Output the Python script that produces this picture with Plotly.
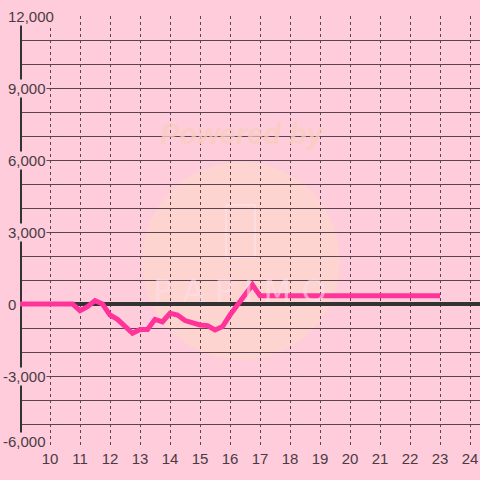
import plotly.graph_objects as go

x_vals = [9, 10.75, 11, 11.25, 11.5, 11.75, 12, 12.25, 12.75, 13, 13.25, 13.5, 13.75,
          14, 14.25, 14.5, 15, 15.25, 15.5, 15.75, 16, 16.75, 17, 23]
y_vals = [0, 0, -280, -110, 140, 0, -460, -640, -1220, -1060, -1060, -640, -740,
          -390, -460, -690, -875, -900, -1080, -940, -460, 800, 340, 340]
x_ticks = list(range(10, 25))
y_ticks = [12000, 9000, 6000, 3000, 0, -3000, -6000]
y_tick_labels = ["12,000", "9,000", "6,000", "3,000", "0", "-3,000", "-6,000"]

BG = "#ffccdc"
GRID = "#5a4450"
TXT = "#4a3b42"
FONT = "Liberation Sans, Arial, sans-serif"

fig = go.Figure()
fig.add_trace(go.Scatter(x=x_vals, y=y_vals, mode="lines",
                         line=dict(color="#ff3399", width=5), hoverinfo="skip",
                         cliponaxis=False))

W, H = 480, 480
L, R, T, B = 20, 0, 16, 32
pw, ph = W - L - R, H - T - B

def px_to_paper_x(px):
    return (px - L) / pw

def px_to_paper_y(py):
    return (H - B - py) / ph

shapes = []
# watermark circle
cx, cy, r = 241, 261, 99
shapes.append(dict(type="circle", xref="paper", yref="paper",
                   x0=px_to_paper_x(cx - r), x1=px_to_paper_x(cx + r),
                   y0=px_to_paper_y(cy + r), y1=px_to_paper_y(cy - r),
                   fillcolor="rgba(250,222,190,0.45)", line=dict(width=0), layer="below"))
# watermark bottle
shapes.append(dict(type="rect", xref="paper", yref="paper",
                   x0=px_to_paper_x(226), x1=px_to_paper_x(255),
                   y0=px_to_paper_y(257), y1=px_to_paper_y(205),
                   fillcolor="rgba(0,0,0,0)", line=dict(width=1.5, color="rgba(255,225,238,0.8)"),
                   layer="below"))
# y axis line
shapes.append(dict(type="line", xref="x", yref="y", x0=9, x1=9, y0=-6000, y1=12000,
                   line=dict(color="#333333", width=4), layer="between"))

annotations = []
for v, t in zip(y_ticks, y_tick_labels):
    neg = t.startswith("-")
    annotations.append(dict(
        x=px_to_paper_x(1.5 if neg else 6.5), xref="paper", xanchor="left",
        y=v, yref="y", yanchor="middle", yshift=7 if v == -6000 else 0,
        text=t, showarrow=False, bgcolor=BG, borderpad=0,
        font=dict(family=FONT, size=15, color=TXT)))
annotations.append(dict(x=px_to_paper_x(242), y=px_to_paper_y(134), xref="paper", yref="paper",
                        xanchor="center", yanchor="middle",
                        text="<b><i>Powered by</i></b>", showarrow=False,
                        font=dict(family=FONT, size=29, color="rgba(248,205,190,0.8)")))
annotations.append(dict(x=px_to_paper_x(240), y=px_to_paper_y(291), xref="paper", yref="paper",
                        xanchor="center", yanchor="middle",
                        text="P A P I M O", showarrow=False,
                        font=dict(family="DejaVu Sans, sans-serif", size=32,
                                  color="rgba(255,222,235,0.6)")))

fig.update_layout(
    width=W, height=H, margin=dict(l=L, r=R, t=T, b=B),
    paper_bgcolor=BG, plot_bgcolor=BG, showlegend=False,
    shapes=shapes, annotations=annotations,
    xaxis=dict(range=[9, 9 + pw / 30], tickmode="array", tickvals=x_ticks,
               ticktext=[str(v) for v in x_ticks], showgrid=True, gridcolor=GRID,
               gridwidth=1, griddash="3px,3px", zeroline=False, showline=False,
               ticks="", tickfont=dict(family=FONT, size=15, color=TXT), fixedrange=True),
    yaxis=dict(range=[-6000, 12000], tickmode="linear", tick0=0, dtick=1000,
               showgrid=True, gridcolor=GRID, gridwidth=1.3, showticklabels=False,
               zeroline=True, zerolinecolor="#333333", zerolinewidth=4,
               showline=False, fixedrange=True),
)

fig.write_html("out.html", config={"displayModeBar": False},
               post_script="document.body.style.margin='0';document.body.style.padding='0';"
                           "document.body.style.background='" + BG + "';")
